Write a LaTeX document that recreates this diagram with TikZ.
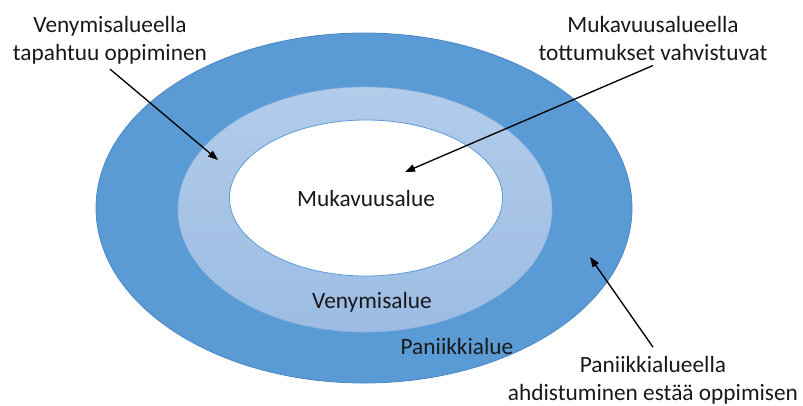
\documentclass[tikz,border=0pt]{standalone}
\usepackage{fontspec}
\setmainfont{Carlito}
\usetikzlibrary{arrows.meta,shapes.geometric}

\definecolor{panicblue}{HTML}{5B9BD5}
\definecolor{panicedge}{HTML}{4A88C4}
\definecolor{stretchtop}{HTML}{B2CCEA}
\definecolor{stretchbot}{HTML}{9CBCE3}
\definecolor{stretchedge}{HTML}{8DB2DE}

\tikzset{
  zone/.style={ellipse, inner sep=0pt, outer sep=0pt},
  lbl/.style={font=\fontsize{17.5}{21}\selectfont, text=black!90, inner sep=0pt, outer sep=0pt},
  note/.style={lbl, align=center},
  pointer/.style={-{Triangle[length=7.5pt,width=5.5pt]}, line width=1pt, black},
}

\begin{document}
\begin{tikzpicture}[x=0.75pt, y=-0.75pt]
  \useasboundingbox (0,0) rectangle (803,405);

  % three nested zones
  \node[zone, fill=panicblue, draw=panicedge, line width=0.6pt,
        minimum width=402pt, minimum height=262.5pt] (panic) at (364,208) {};
  \node[zone, top color=stretchtop, bottom color=stretchbot, draw=stretchedge, line width=0.4pt,
        minimum width=280.5pt, minimum height=183.8pt] (stretch) at (365,209.5) {};
  \node[zone, fill=white, draw=panicblue, line width=0.6pt,
        minimum width=204.8pt, minimum height=117pt] (comfort) at (366,198) {};

  % zone names
  \node[lbl, anchor=base] (comfortname) at (366,206) {Mukavuusalue};
  \node[lbl, anchor=base] (stretchname) at (372,308) {Venymisalue};
  \node[lbl, anchor=base] (panicname) at (457,354) {Paniikkialue};

  % explanatory notes (base = baseline of the last line)
  \node[note, anchor=base] (stretchnote) at (110,60) {Venymisalueella\\tapahtuu oppiminen};
  \node[note, anchor=base] (comfortnote) at (653,60) {Mukavuusalueella\\tottumukset vahvistuvat};
  \node[note, anchor=base] (panicnote) at (653,400) {Paniikkialueella\\ahdistuminen estää oppimisen};

  % arrow targets
  \coordinate (stretchtip) at (218,160);
  \coordinate (comforttip) at (405,172);
  \coordinate (panictip) at (590,257);

  \draw[pointer] ([yshift=-4pt]stretchnote.south) -- (stretchtip);
  \draw[pointer] ([yshift=-4pt]comfortnote.south) -- (comforttip);
  \draw[pointer] ([yshift=6.5pt]panicnote.north) -- (panictip);
\end{tikzpicture}
\end{document}
